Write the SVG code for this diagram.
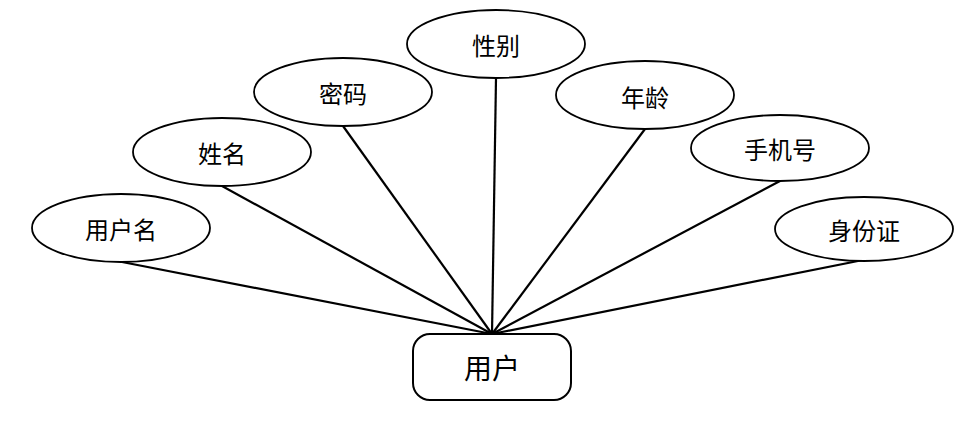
<svg xmlns="http://www.w3.org/2000/svg" width="963" height="423" viewBox="0 0 963 423">
<style>
.attr{fill:#fff;stroke:#000;stroke-width:1.8}
.ent{fill:#fff;stroke:#000;stroke-width:2}
.t{font-family:"Noto Sans CJK SC","Noto Sans",sans-serif;font-size:24px;fill:#000;text-anchor:middle;dominant-baseline:central}
.te{font-size:28px}
.c{stroke:#000;stroke-width:2.2;fill:none}
</style>
<rect width="963" height="423" fill="#fff"/>
<g id="connectors">
<line class="c" x1="122" y1="262" x2="492" y2="334"/>
<line class="c" x1="222" y1="186" x2="492" y2="334"/>
<line class="c" x1="343" y1="126" x2="492" y2="334"/>
<line class="c" x1="496" y1="78" x2="492" y2="334"/>
<line class="c" x1="645" y1="129" x2="492" y2="334"/>
<line class="c" x1="780" y1="181" x2="492" y2="334"/>
<line class="c" x1="863" y1="260" x2="492" y2="334"/>
</g>
<g id="yonghuming"><ellipse class="attr" cx="121" cy="228" rx="89" ry="34"/><text class="t" x="121" y="228">用户名</text></g>
<g id="xingming"><ellipse class="attr" cx="222" cy="152" rx="89" ry="34"/><text class="t" x="222" y="152">姓名</text></g>
<g id="mima"><ellipse class="attr" cx="343" cy="92" rx="89" ry="34"/><text class="t" x="343" y="92">密码</text></g>
<g id="xingbie"><ellipse class="attr" cx="496" cy="44" rx="89" ry="34"/><text class="t" x="496" y="44">性别</text></g>
<g id="nianling"><ellipse class="attr" cx="645" cy="95" rx="89" ry="34"/><text class="t" x="645" y="96">年龄</text></g>
<g id="shoujihao"><ellipse class="attr" cx="780" cy="148" rx="89" ry="33"/><text class="t" x="780" y="148">手机号</text></g>
<g id="shenfenzheng"><ellipse class="attr" cx="864" cy="229" rx="89" ry="32"/><text class="t" x="864" y="229">身份证</text></g>
<g id="yonghu"><rect class="ent" x="413" y="334" width="158" height="66" rx="17" ry="17"/><text class="t te" x="492" y="367">用户</text></g>
</svg>
